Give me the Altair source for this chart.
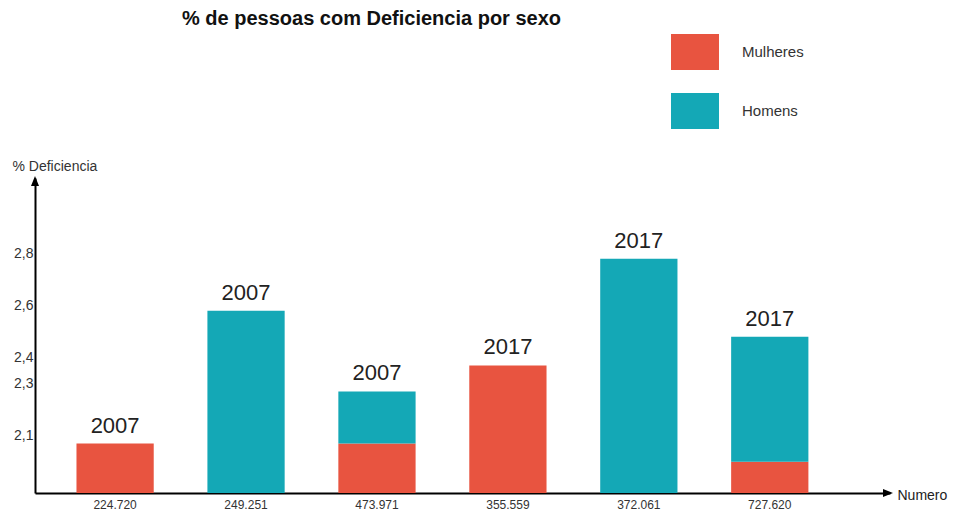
import altair as alt
import pandas as pd

# ---- data ----
numeros = ["224.720", "249.251", "473.971", "355.559", "372.061", "727.620"]
anos = ["2007", "2007", "2007", "2017", "2017", "2017"]
mulheres = [2.07, None, 2.07, 2.37, None, 2.00]
homens = [None, 2.58, 2.27, None, 2.78, 2.48]
y_ticks = [2.1, 2.3, 2.4, 2.6, 2.8]
sexos = ["Mulheres", "Homens"]
cores = ["#E85440", "#14A8B6"]
Y_MIN, Y_MAX = 1.88, 3.09

W, H = 855, 315
FONT = "Liberation Sans"

rows = []
tops = []
for n, m, h in zip(numeros, mulheres, homens):
    base = Y_MIN
    if m is not None:
        rows.append({"Numero": n, "sexo": "Mulheres", "start": Y_MIN, "end": m})
        base = m
    if h is not None:
        rows.append({"Numero": n, "sexo": "Homens", "start": base, "end": h})
    tops.append(max(v for v in (m, h) if v is not None))
seg = pd.DataFrame(rows)
lab = pd.DataFrame({"Numero": numeros, "ano": anos, "top": tops})

xscale = alt.Scale(domain=numeros, paddingInner=0.41, paddingOuter=0.47, align=0.337)
yscale = alt.Scale(domain=[Y_MIN, Y_MAX], nice=False, zero=False)

x_enc = alt.X(
    "Numero:N", sort=numeros, scale=xscale,
    axis=alt.Axis(
        labelAngle=0, ticks=False, grid=False, domainColor="black", domainWidth=2,
        labelFontSize=12, labelColor="#333333", labelPadding=6, labelFont=FONT,
        title="Numero", titleX=862, titleY=2, titleAlign="left", titleBaseline="middle",
        titleFontWeight="normal", titleFontSize=14, titleFont=FONT, titleColor="#222222",
    ),
)

bars = alt.Chart(seg).mark_bar().encode(
    x=x_enc,
    y=alt.Y(
        "end:Q", scale=yscale,
        axis=alt.Axis(
            values=y_ticks,
            labelExpr="replace(format(datum.value, '.1f'), '.', ',')",
            ticks=False, grid=False, domainColor="black", domainWidth=2,
            labelFontSize=14, labelColor="#333333", labelPadding=2, labelFont=FONT,
            title="% Deficiencia", titleAngle=0, titleX=-23, titleY=-12,
            titleAlign="left", titleBaseline="middle", titleFontWeight="normal",
            titleFontSize=14, titleFont=FONT, titleColor="#333333",
        ),
    ),
    y2="start:Q",
    color=alt.Color(
        "sexo:N", scale=alt.Scale(domain=sexos, range=cores),
        legend=alt.Legend(
            orient="none", legendX=642, legendY=-144, title=None,
            symbolType="M-1.333,-1H1.333V1H-1.333Z", symbolSize=1296,
            symbolStrokeWidth=0, symbolOpacity=1,
            labelFontSize=15, labelFont=FONT, labelColor="#333333",
            labelOffset=29, rowPadding=23, padding=0,
        ),
    ),
)

texts = alt.Chart(lab).mark_text(
    baseline="bottom", dy=-6, fontSize=22, font=FONT, color="#222222"
).encode(
    x=alt.X("Numero:N", sort=numeros, scale=xscale),
    y=alt.Y("top:Q", scale=yscale),
    text="ano:N",
)

one = pd.DataFrame({"k": [0]})
arrow_up = alt.Chart(one).mark_point(
    shape="M0,-1L0.8,1L-0.8,1Z", size=100, filled=True, color="black", opacity=1
).encode(x=alt.value(0), y=alt.value(3))
arrow_right = alt.Chart(one).mark_point(
    shape="M1,0L-1,-0.8L-1,0.8Z", size=100, filled=True, color="black", opacity=1
).encode(x=alt.value(W - 2), y=alt.value(H))

chart = alt.layer(bars, texts, arrow_up, arrow_right).properties(
    width=W, height=H,
    autosize=alt.AutoSizeParams(type="none"),
    padding={"left": 27, "top": 170, "right": 58, "bottom": 18},
    title=alt.TitleParams(
        "% de pessoas com Deficiencia por sexo", anchor="start", frame="group",
        dx=147, dy=-1, fontSize=20, font=FONT, fontWeight="bold", color="#111111",
    ),
).configure_view(stroke=None)

chart.save("out.html", embed_options={"renderer": "svg", "actions": False})
